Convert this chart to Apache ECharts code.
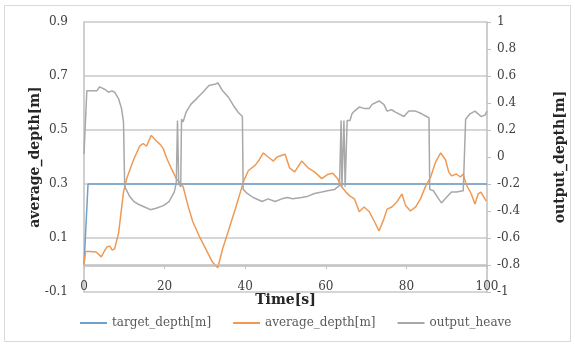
<!DOCTYPE html>
<html>
<head>
<meta charset="utf-8">
<script src="https://cdn.jsdelivr.net/npm/echarts@6/dist/echarts.min.js"></script>
<style>
  html, body { margin: 0; padding: 0; background: #fff; }
  #chart { width: 575px; height: 344px; }
</style>
</head>
<body>
<div id="chart"></div>
<script>
// target depth (left axis)
const targetTime = [0, 1, 100];
const targetDepth = [0, 0.3, 0.3];

// average depth (left axis)
const avgTime = [0, 0.4, 1.5, 3.0, 4.3, 5.0, 5.7, 6.4, 7.0, 7.6, 8.6, 9.8, 10.6, 12.3, 13.8, 14.7, 15.5, 16.7, 17.9, 19.0,
  19.7, 20.4, 21.6, 22.9, 24.6, 25.8, 27.0, 28.5, 30.2, 31.9, 33.2, 34.4, 35.9, 37.6, 38.8, 39.6, 40.8, 42.5, 43.5, 44.5,
  45.7, 47.0, 47.9, 49.9, 51.0, 52.3, 54.0, 55.6, 57.2, 59.0, 60.4, 61.7, 62.9, 63.9, 65.0, 66.0, 67.1, 68.3, 69.5, 70.8,
  72.0, 73.2, 74.4, 75.2, 76.4, 77.6, 78.9, 79.8, 81.0, 82.3, 83.5, 84.8, 86.0, 87.2, 88.5, 89.7, 90.5, 91.2, 92.4, 93.4,
  94.1, 94.8, 96.1, 97.0, 97.8, 98.5, 99.8];
const avgDepth = [0, 0.05, 0.05, 0.048, 0.03, 0.05, 0.067, 0.07, 0.055, 0.06, 0.12, 0.27, 0.32, 0.39, 0.44, 0.45, 0.44, 0.48, 0.46, 0.445,
  0.43, 0.40, 0.36, 0.32, 0.29, 0.22, 0.16, 0.11, 0.06, 0.01, -0.01, 0.06, 0.13, 0.21, 0.27, 0.31, 0.35, 0.37, 0.39, 0.415,
  0.40, 0.385, 0.40, 0.41, 0.36, 0.345, 0.385, 0.36, 0.345, 0.32, 0.335, 0.34, 0.32, 0.29, 0.27, 0.255, 0.245, 0.197, 0.215, 0.197,
  0.163, 0.126, 0.17, 0.207, 0.215, 0.233, 0.263, 0.22, 0.20, 0.215, 0.245, 0.293, 0.325, 0.38, 0.415, 0.39, 0.345, 0.33, 0.337, 0.326,
  0.337, 0.30, 0.263, 0.226, 0.263, 0.27, 0.237];

// output heave (right axis)
const heaveTime = [0, 0.7, 3.2, 3.9, 5.2, 6.1, 6.9, 7.6, 8.6, 9.3, 9.8, 10.1, 11.3, 12.4, 13.5, 15.0, 16.5, 17.9, 19.7, 21.1,
  22.4, 22.9, 23.2, 23.5, 24.0, 24.2, 24.6, 25.3, 26.5, 28.2, 29.5, 31.0, 32.7, 33.2, 34.4, 35.9, 37.1, 38.3, 39.3, 39.5,
  40.5, 42.0, 44.2, 45.7, 47.4, 49.1, 50.4, 51.8, 54.0, 55.6, 57.2, 59.0, 60.4, 62.2, 63.4, 63.8, 64.0, 64.5, 64.8, 65.3,
  66.0, 66.5, 67.1, 68.3, 69.5, 70.8, 71.5, 73.2, 74.4, 75.2, 76.3, 77.4, 79.4, 80.6, 82.3, 83.8, 85.0, 85.6, 85.8, 86.7,
  88.0, 88.7, 89.9, 91.2, 92.4, 94.1, 94.5, 94.7, 95.8, 97.0, 97.8, 98.5, 99.5, 100];
const heaveValue = [0.02, 0.49, 0.49, 0.52, 0.50, 0.48, 0.49, 0.48, 0.43, 0.36, 0.26, -0.22, -0.29, -0.33, -0.35, -0.37, -0.39, -0.38, -0.36, -0.33,
  -0.26, -0.19, 0.27, -0.2, -0.22, 0.28, 0.26, 0.33, 0.39, 0.44, 0.48, 0.53, 0.54, 0.55, 0.49, 0.44, 0.38, 0.33, 0.30, -0.24,
  -0.27, -0.30, -0.33, -0.31, -0.33, -0.31, -0.30, -0.31, -0.30, -0.29, -0.27, -0.26, -0.25, -0.24, -0.21, 0.27, -0.22, 0.27, -0.22, 0.27,
  0.27, 0.32, 0.34, 0.37, 0.36, 0.36, 0.39, 0.415, 0.39, 0.34, 0.35, 0.33, 0.30, 0.34, 0.34, 0.32, 0.30, 0.29, -0.24, -0.25,
  -0.31, -0.34, -0.30, -0.26, -0.26, -0.25, -0.24, 0.28, 0.32, 0.34, 0.32, 0.30, 0.31, 0.34];

const pair = (xs, ys) => xs.map((x, i) => [x, ys[i]]);

const serif = "DejaVu Serif";
let chart = echarts.init(document.getElementById("chart"));

let option = {
  animation: false,
  backgroundColor: "#fff",
  color: ["#6f9fcc", "#ee9a55", "#a8a8a8"],
  graphic: [
    {
      type: "rect",
      shape: { x: 4.5, y: 5.5, width: 566, height: 336 },
      style: { fill: "none", stroke: "#d9d9d9", lineWidth: 1 },
    },
  ],
  grid: { left: 84, right: 83, top: 22, bottom: 52 },
  legend: {
    left: 75,
    top: 312,
    itemGap: 22,
    icon: "rect",
    itemWidth: 27,
    itemHeight: 2,
    textStyle: { fontFamily: serif, fontSize: 12, color: "#595959" },
    data: ["target_depth[m]", "average_depth[m]", "output_heave"],
  },
  xAxis: {
    type: "value",
    position: "bottom",
    // axis sits at depth 0 (26px above the plot bottom)
    offset: -26,
    min: 0,
    max: 100,
    interval: 20,
    name: "Time[s]",
    nameLocation: "middle",
    nameGap: 27,
    nameMoveOverlap: false,
    nameTextStyle: { fontFamily: serif, fontSize: 14, fontWeight: "bold", color: "#262626" },
    axisLine: { show: true, onZero: false, lineStyle: { color: "#bfbfbf", width: 1.5 } },
    axisTick: { show: true, length: 3, lineStyle: { color: "#bfbfbf" } },
    axisLabel: { margin: 15, fontFamily: serif, fontSize: 12, color: "#404040" },
    splitLine: { show: false },
  },
  yAxis: [
    {
      type: "value",
      min: -0.1,
      max: 0.9,
      interval: 0.2,
      name: "average_depth[m]",
      nameLocation: "middle",
      nameGap: 42,
      nameMoveOverlap: false,
      nameTextStyle: { fontFamily: serif, fontSize: 14, fontWeight: "bold", color: "#262626" },
      axisLine: { show: true, onZero: false, lineStyle: { color: "#bfbfbf", width: 1.5 } },
      axisTick: { show: false },
      axisLabel: { margin: 16, fontFamily: serif, fontSize: 12, color: "#404040" },
      splitLine: { show: true, lineStyle: { color: "#c8c8c8", width: 1.5 } },
    },
    {
      type: "value",
      position: "right",
      min: -1,
      max: 1,
      interval: 0.2,
      name: "output_depth[m]",
      nameLocation: "middle",
      nameRotate: 90,
      nameGap: 66,
      nameMoveOverlap: false,
      nameTextStyle: { fontFamily: serif, fontSize: 14, fontWeight: "bold", color: "#262626" },
      axisLine: { show: true, onZero: false, lineStyle: { color: "#bfbfbf", width: 1.5 } },
      axisTick: { show: true, inside: false, length: 4, lineStyle: { color: "#bfbfbf" } },
      axisLabel: {
        margin: 10,
        fontFamily: serif,
        fontSize: 12,
        color: "#404040",
        formatter: (v) => String(Math.round(v * 10) / 10),
      },
      splitLine: { show: false },
    },
  ],
  series: [
    {
      name: "target_depth[m]",
      type: "line",
      yAxisIndex: 0,
      showSymbol: false,
      lineStyle: { width: 1.5 },
      data: pair(targetTime, targetDepth),
      // depth 0 line (where the time axis crosses)
      markLine: {
        silent: true,
        symbol: "none",
        label: { show: false },
        lineStyle: { color: "#bfbfbf", width: 1.5, type: "solid" },
        data: [{ yAxis: 0 }],
      },
    },
    {
      name: "average_depth[m]",
      type: "line",
      yAxisIndex: 0,
      showSymbol: false,
      lineStyle: { width: 1.5 },
      data: pair(avgTime, avgDepth),
    },
    {
      name: "output_heave",
      type: "line",
      yAxisIndex: 1,
      showSymbol: false,
      lineStyle: { width: 1.5 },
      data: pair(heaveTime, heaveValue),
    },
  ],
};
chart.setOption(option);
</script>
</body>
</html>
